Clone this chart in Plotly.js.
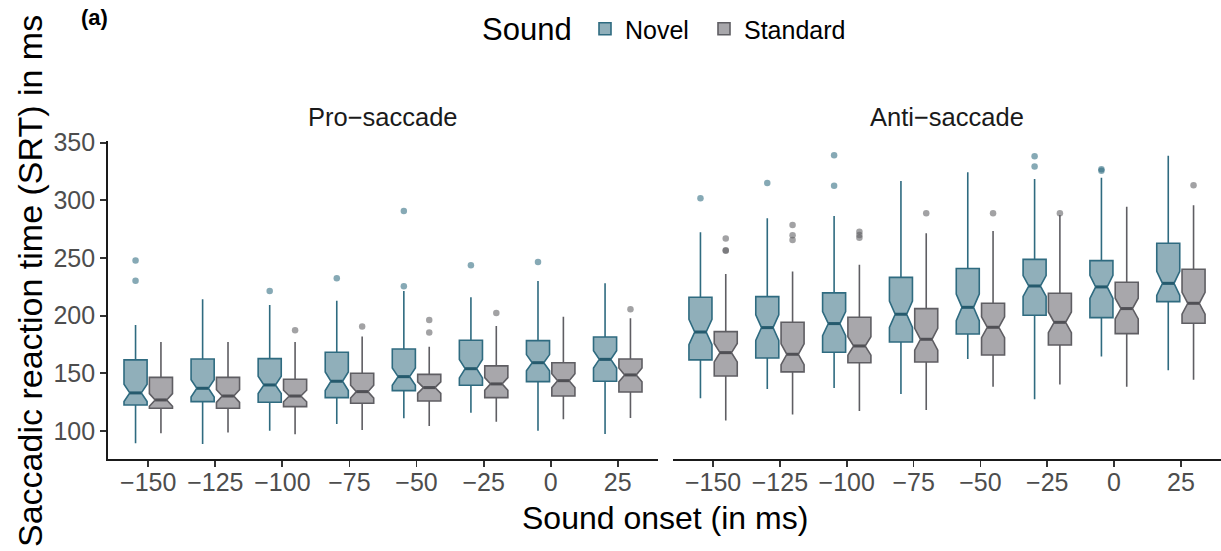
<!DOCTYPE html>
<html>
<head>
<meta charset="utf-8">
<script src="https://cdn.plot.ly/plotly-3.0.1.min.js"></script>
<style>html,body{margin:0;padding:0;background:#fff;}#chart{width:1221px;height:551px;}</style>
</head>
<body>
<div id="chart"></div>
<script>
// ---------- data ----------
const categories = ["\u2212150","\u2212125","\u2212100","\u221275","\u221250","\u221225","0","25"];

// Pro-saccade, Novel
const proNovelQ1     = [122.5, 125.4, 124.9, 128.9, 135.0, 139.6, 142.8, 143.1];
const proNovelMedian = [133.0, 137.0, 139.9, 143.1, 147.1, 154.0, 159.2, 162.1];
const proNovelQ3     = [161.6, 162.4, 162.7, 168.2, 171.1, 178.6, 178.3, 181.5];
const proNovelLow    = [89.3, 88.7, 100.3, 106.0, 111.0, 115.9, 100.3, 97.4];
const proNovelHigh   = [191.9, 214.2, 209.2, 213.0, 221.4, 215.9, 230.0, 228.0];
const proNovelNotch  = [7.5, 7.5, 7.5, 8, 7.5, 8, 7, 7.5];
const proNovelOutX   = ["\u2212150","\u2212150","\u2212100","\u221275","\u221250","\u221250","\u221225","0"];
const proNovelOutY   = [247.7, 230.3, 221.4, 232.4, 290.8, 225.4, 243.6, 246.5];

// Pro-saccade, Standard
const proStdQ1     = [119.7, 119.7, 121.1, 124.0, 126.0, 128.9, 130.3, 133.8];
const proStdMedian = [126.9, 130.3, 130.3, 134.1, 137.6, 140.8, 143.6, 148.6];
const proStdQ3     = [146.5, 146.5, 144.8, 150.0, 149.1, 156.4, 159.2, 162.4];
const proStdLow    = [98.0, 98.6, 97.1, 100.9, 104.3, 108.0, 110.1, 111.3];
const proStdHigh   = [177.2, 177.2, 177.2, 181.8, 173.1, 191.0, 199.1, 197.7];
const proStdNotch  = [5.5, 5.5, 5, 5.5, 5, 5.5, 6, 6];
const proStdOutX   = ["\u2212100","\u221275","\u221250","\u221250","\u221225","25"];
const proStdOutY   = [187.3, 190.5, 196.2, 185.3, 202.3, 205.5];

// Anti-saccade, Novel
const antiNovelQ1     = [161.6, 163.3, 168.2, 177.2, 184.1, 200.3, 198.3, 212.1];
const antiNovelMedian = [185.8, 189.6, 193.1, 201.2, 207.2, 225.7, 224.9, 228.0];
const antiNovelQ3     = [215.9, 216.5, 219.7, 233.2, 240.8, 248.8, 247.7, 262.7];
const antiNovelLow    = [128.3, 136.4, 137.3, 132.1, 162.4, 127.5, 164.5, 152.6];
const antiNovelHigh   = [272.3, 284.4, 286.4, 316.8, 324.3, 318.5, 319.6, 338.7];
const antiNovelNotch  = [11, 11, 10.5, 11.5, 11.5, 9, 10, 10.5];
const antiNovelOutX   = ["\u2212150","\u2212125","\u2212100","\u2212100","\u221225","\u221225","0","0"];
const antiNovelOutY   = [301.7, 315.0, 339.0, 312.7, 338.2, 329.2, 326.9, 325.7];

// Anti-saccade, Standard
const antiStdQ1     = [147.7, 151.2, 159.2, 159.8, 165.9, 174.6, 184.4, 193.4];
const antiStdMedian = [167.9, 166.5, 173.7, 179.5, 189.9, 194.2, 206.1, 210.7];
const antiStdQ3     = [186.1, 194.2, 198.6, 206.1, 210.7, 219.4, 228.9, 240.2];
const antiStdLow    = [109.0, 114.2, 117.4, 118.2, 138.4, 140.2, 138.4, 144.5];
const antiStdHigh   = [236.1, 238.2, 244.2, 271.4, 273.4, 287.3, 294.5, 295.7];
const antiStdNotch  = [8, 9, 8, 9.5, 9, 9, 9, 9.5];
const antiStdOutX   = ["\u2212150","\u2212150","\u2212150","\u2212125","\u2212125","\u2212125","\u2212100","\u2212100","\u2212100","\u221275","\u221250","\u221225","25"];
const antiStdOutY   = [266.8, 256.6, 256.2, 278.6, 269.7, 265.6, 272.8, 270.0, 267.6, 288.7, 288.7, 288.7, 313.0];

const yTicks = [100, 150, 200, 250, 300, 350];

// ---------- styles ----------
const FONT = "Liberation Sans, Arial, sans-serif";
const novelLine = "#2f6b80", novelFill = "#90afba", novelPt = "rgba(47,107,128,0.58)", novelMed = "#255a6d";
const stdLine = "#5f5e63", stdFill = "#a8a7ab", stdPt = "rgba(95,94,99,0.58)", stdMed = "#505055";

function boxTrace(name, q1, med, q3, lo, hi, notch, fill, line, xa, ya, showlegend, leg) {
  return {
    type: "box", orientation: "v", name: name, legendgroup: name, showlegend: showlegend,
    legend: leg, offsetgroup: name, alignmentgroup: "a",
    x: categories, q1: q1, median: med, q3: q3, lowerfence: lo, upperfence: hi,
    notchspan: notch, notched: true, notchwidth: 0.25, whiskerwidth: 0,
    boxpoints: false, fillcolor: fill, line: {color: line, width: 1.6},
    xaxis: xa, yaxis: ya, hoverinfo: "skip"
  };
}
function outTrace(name, xs, ys, color, xa, ya) {
  return {
    type: "scatter", mode: "markers", name: name, legendgroup: name, showlegend: false,
    offsetgroup: name, alignmentgroup: "a",
    x: xs, y: ys, marker: {color: color, size: 6.5, line: {width: 0}},
    xaxis: xa, yaxis: ya, hoverinfo: "skip"
  };
}
function medTrace(name, med, color, xa, ya) {
  return {
    type: "scatter", mode: "markers", name: name, legendgroup: name, showlegend: false,
    offsetgroup: name, alignmentgroup: "a",
    x: categories, y: med,
    marker: {symbol: "line-ew", size: 8.3, color: color, line: {width: 3, color: color}},
    xaxis: xa, yaxis: ya, hoverinfo: "skip"
  };
}

const data = [
  boxTrace("Novel", proNovelQ1, proNovelMedian, proNovelQ3, proNovelLow, proNovelHigh, proNovelNotch, novelFill, novelLine, "x", "y", true, "legend"),
  boxTrace("Standard", proStdQ1, proStdMedian, proStdQ3, proStdLow, proStdHigh, proStdNotch, stdFill, stdLine, "x", "y", true, "legend2"),
  boxTrace("Novel", antiNovelQ1, antiNovelMedian, antiNovelQ3, antiNovelLow, antiNovelHigh, antiNovelNotch, novelFill, novelLine, "x2", "y2", false, "legend"),
  boxTrace("Standard", antiStdQ1, antiStdMedian, antiStdQ3, antiStdLow, antiStdHigh, antiStdNotch, stdFill, stdLine, "x2", "y2", false, "legend2"),
  medTrace("Novel", proNovelMedian, novelMed, "x", "y"),
  medTrace("Standard", proStdMedian, stdMed, "x", "y"),
  medTrace("Novel", antiNovelMedian, novelMed, "x2", "y2"),
  medTrace("Standard", antiStdMedian, stdMed, "x2", "y2"),
  outTrace("Novel", proNovelOutX, proNovelOutY, novelPt, "x", "y"),
  outTrace("Standard", proStdOutX, proStdOutY, stdPt, "x", "y"),
  outTrace("Novel", antiNovelOutX, antiNovelOutY, novelPt, "x2", "y2"),
  outTrace("Standard", antiStdOutX, antiStdOutY, stdPt, "x2", "y2")
];

const W = 1221, H = 551;
const px = v => v / W, py = v => 1 - v / H;

const xBase = {
  type: "category", categoryorder: "array", categoryarray: categories,
  showline: true, linecolor: "#1a1a1a", linewidth: 1.8,
  ticks: "outside", ticklen: 6, tickwidth: 1.8, tickcolor: "#333",
  tickfont: {family: FONT, size: 25, color: "#4d4d4d"}, ticklabelstandoff: -6,
  showgrid: false, zeroline: false, fixedrange: true, anchor: "y"
};
function ann(text, x, y, size, extra) {
  return Object.assign({text: text, x: px(x), y: py(y), xref: "paper", yref: "paper",
    xanchor: "center", yanchor: "middle", showarrow: false,
    font: {family: FONT, size: size, color: "#000"}}, extra || {});
}
const legBase = {
  orientation: "h", xanchor: "left", y: py(6), yanchor: "top",
  font: {family: FONT, size: 25, color: "#000"},
  itemwidth: 30, tracegroupgap: 0, bgcolor: "rgba(0,0,0,0)"
};
const layout = {
  width: W, height: H,
  margin: {l: 0, r: 0, t: 0, b: 0},
  paper_bgcolor: "#fff", plot_bgcolor: "#fff",
  font: {family: FONT, color: "#000"},
  boxmode: "group", boxgap: 0.243, boxgroupgap: 0.09,
  scattermode: "group", scattergap: 0.243,
  xaxis: Object.assign({}, xBase, {domain: [px(108), px(658)], range: [-0.6, 7.6], anchor: "y"}),
  xaxis2: Object.assign({}, xBase, {domain: [px(673), 1], range: [-0.6, 7.6], anchor: "y2"}),
  yaxis: {
    domain: [py(459), py(141)], range: [75.7, 351.4],
    tickvals: yTicks, ticktext: yTicks.map(String),
    showline: true, linecolor: "#1a1a1a", linewidth: 1.8,
    ticks: "outside", ticklen: 6, tickwidth: 1.8, tickcolor: "#333",
    tickfont: {family: FONT, size: 25, color: "#4d4d4d"},
    showgrid: false, zeroline: false, fixedrange: true, anchor: "x"
  },
  yaxis2: {
    domain: [py(459), py(141)], range: [75.7, 351.4], matches: "y",
    showline: false, showticklabels: false, ticks: "",
    showgrid: false, zeroline: false, fixedrange: true, anchor: "x2"
  },
  legend: Object.assign({}, legBase, {x: px(585)}),
  legend2: Object.assign({}, legBase, {x: px(704)}),
  annotations: [
    ann("<b>(a)</b>", 94, 18, 22),
    ann("Sound", 527, 30, 31),
    ann("Pro\u2212saccade", 383, 117, 25.5, {font: {family: FONT, size: 25.5, color: "#1a1a1a"}}),
    ann("Anti\u2212saccade", 947, 117, 25.5, {font: {family: FONT, size: 25.5, color: "#1a1a1a"}}),
    ann("Sound onset (in ms)", 665, 518, 32),
    ann("Saccadic reaction time (SRT) in ms", 30, 281, 34, {textangle: -90})
  ]
};

Plotly.newPlot("chart", data, layout, {staticPlot: true, displayModeBar: false});
</script>
</body>
</html>
